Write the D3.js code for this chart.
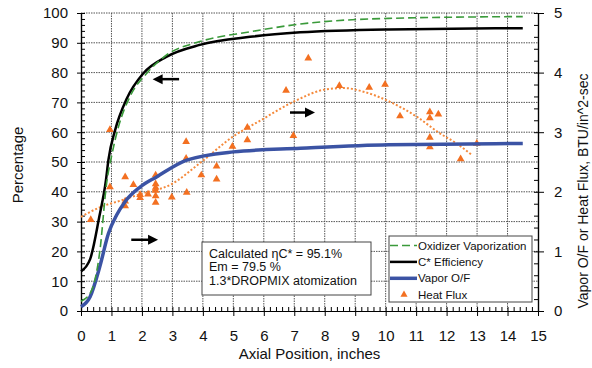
<!DOCTYPE html>
<html lang="en">
  <head>
    <meta charset="UTF-8" />
    <title>Axial Position chart</title>
    <style>
      body {
        margin: 0;
        background: #fff;
        font-family: Arial, "Liberation Sans", sans-serif;
      }
      .grid line {
        stroke: #555;
        stroke-width: 1;
        stroke-dasharray: 1.5 1;
      }
      .axis path,
      .axis line {
        stroke: #000;
      }
      .axis text {
        font-size: 15px;
        fill: #111;
      }
      .box {
        fill: #fff;
        stroke: #444;
        stroke-width: 1;
      }
    </style>
  </head>
  <body>
    <div class="svg-container"></div>
    <script src="https://d3js.org/d3.v7.min.js"></script>
    <script>
      // axis ticks
      var xTicks = d3.range(0, 16, 1);
      var leftTicks = d3.range(0, 101, 10);
      var rightTicks = [0, 1, 2, 3, 4, 5];

      // curves on the left axis (percentage)
      var oxVap = [
        [0, 3.3], [0.32, 6.3], [0.62, 20.2], [0.84, 42.8], [1.0, 51.8],
        [1.23, 61.8], [1.61, 72], [2.16, 79.8], [2.81, 85.9], [3.9, 90.4],
        [5.55, 93.7], [7.2, 96.3], [10.1, 98.2], [14.5, 98.8]
      ];
      var cStar = [
        [0, 13.3], [0.3, 17.4], [0.6, 31.6], [0.82, 44], [0.9, 50.7],
        [1.12, 60.7], [1.5, 71.2], [2.05, 79.8], [2.8, 85.3], [3.9, 89.3],
        [5.55, 92], [7.2, 93.5], [10.1, 94.5], [14.5, 94.9]
      ];

      // curves / points on the right axis (BTU/in^2-sec)
      var vaporOF = [
        [0, 0.07], [0.3, 0.24], [0.62, 0.75], [0.9, 1.3], [1.17, 1.61],
        [1.44, 1.83], [1.94, 2.08], [2.48, 2.25], [3.47, 2.53], [5, 2.67],
        [7.2, 2.73], [10.1, 2.79], [14.5, 2.81]
      ];
      var heatFlux = [
        [0.32, 1.53], [0.95, 3.04], [0.95, 2.08], [1.45, 2.25], [1.45, 1.84],
        [1.45, 1.76], [1.72, 2.12], [1.94, 1.95], [1.94, 1.9], [2.2, 1.96],
        [2.45, 2.28], [2.45, 2.13], [2.45, 2.07], [2.45, 2.02], [2.45, 1.93],
        [2.45, 1.82], [2.98, 1.91], [3.47, 1.99], [3.45, 2.84], [3.45, 2.56],
        [3.95, 2.28], [4.45, 2.43], [4.45, 2.21], [4.97, 2.76], [5.46, 3.08],
        [5.46, 2.87], [6.73, 3.7], [6.97, 2.94], [7.46, 4.24], [8.48, 3.78],
        [9.46, 3.75], [9.98, 3.8], [10.47, 3.27], [11.45, 3.34], [11.45, 3.24],
        [11.73, 3.3], [11.45, 2.91], [11.45, 2.75], [12.46, 2.55], [12.99, 2.81]
      ];
      var fluxTrend = [
        [0, 1.58], [0.62, 1.74], [1.28, 1.85], [1.94, 1.96], [2.98, 2.13],
        [3.9, 2.48], [5, 2.93], [5.9, 3.2], [6.97, 3.51], [8.06, 3.72],
        [8.66, 3.74], [9.27, 3.68], [10.14, 3.51], [11.02, 3.26],
        [11.78, 2.98], [12.33, 2.81], [12.8, 2.63]
      ];

      var legendNames = [
        "Oxidizer Vaporization",
        "C* Efficiency",
        "Vapor O/F",
        "Heat Flux"
      ];
      var noteLines = [
        "Calculated \u03b7C* = 95.1%",
        "Em = 79.5 %",
        "1.3*DROPMIX atomization"
      ];

      var width = 592,
        height = 368;
      var plot = { left: 81, right: 538, top: 13, bottom: 311 };

      var svg = d3
        .select(".svg-container")
        .append("svg")
        .attr("width", width)
        .attr("height", height);

      var x = d3.scaleLinear().domain([0, 15]).range([plot.left, plot.right]);
      var yL = d3.scaleLinear().domain([0, 100]).range([plot.bottom, plot.top]);
      var yR = d3.scaleLinear().domain([0, 5]).range([plot.bottom, plot.top]);

      // dotted grid
      var grid = svg.append("g").attr("class", "grid");
      grid
        .selectAll(".v")
        .data(xTicks.filter((d) => d > 0 && d < 15))
        .enter()
        .append("line")
        .attr("x1", (d) => x(d))
        .attr("x2", (d) => x(d))
        .attr("y1", plot.top)
        .attr("y2", plot.bottom);
      grid
        .selectAll(".h")
        .data(leftTicks.filter((d) => d > 0))
        .enter()
        .append("line")
        .attr("x1", plot.left)
        .attr("x2", plot.right)
        .attr("y1", (d) => yL(d))
        .attr("y2", (d) => yL(d));

      // axes
      svg
        .append("g")
        .attr("class", "axis")
        .attr("transform", "translate(0," + plot.bottom + ")")
        .call(d3.axisBottom(x).tickValues(xTicks).tickSize(5).tickPadding(14).tickSizeOuter(0));
      svg
        .append("g")
        .attr("class", "axis")
        .attr("transform", "translate(0," + plot.bottom + ")")
        .call(
          d3.axisBottom(x).tickValues(d3.range(0, 15.01, 0.2)).tickSize(-4).tickFormat("").tickSizeOuter(0)
        );
      svg
        .append("g")
        .attr("class", "axis")
        .attr("transform", "translate(" + plot.left + ",0)")
        .call(d3.axisLeft(yL).tickValues(leftTicks).tickSize(4).tickPadding(9).tickSizeOuter(0));
      svg
        .append("g")
        .attr("class", "axis")
        .attr("transform", "translate(" + plot.left + ",0)")
        .call(d3.axisLeft(yL).tickValues(d3.range(0, 101, 2)).tickSize(-4).tickFormat("").tickSizeOuter(0));
      svg
        .append("g")
        .attr("class", "axis")
        .attr("transform", "translate(" + plot.right + ",0)")
        .call(
          d3.axisRight(yR).tickValues(rightTicks).tickFormat(d3.format("d")).tickSize(6).tickPadding(10).tickSizeOuter(0)
        );
      svg
        .append("g")
        .attr("class", "axis")
        .attr("transform", "translate(" + plot.right + ",0)")
        .call(d3.axisRight(yR).tickValues(d3.range(0, 5.01, 0.2)).tickSize(-4).tickFormat("").tickSizeOuter(0));
      svg.selectAll(".axis path.domain").attr("stroke-width", 1.2);

      // axis titles
      svg
        .append("text")
        .attr("x", (plot.left + plot.right) / 2)
        .attr("y", 359)
        .attr("text-anchor", "middle")
        .style("font-size", "15px")
        .attr("fill", "#111")
        .text("Axial Position, inches");
      svg
        .append("text")
        .attr("transform", "translate(23,165) rotate(-90)")
        .attr("text-anchor", "middle")
        .style("font-size", "15px")
        .attr("fill", "#111")
        .text("Percentage");
      svg
        .append("text")
        .attr("transform", "translate(588,191) rotate(-90)")
        .attr("text-anchor", "middle")
        .style("font-size", "14px")
        .attr("fill", "#111")
        .text("Vapor O/F or Heat Flux, BTU/in^2-sec");

      var lineL = d3
        .line()
        .curve(d3.curveMonotoneX)
        .x((d) => x(d[0]))
        .y((d) => yL(d[1]));
      var lineR = d3
        .line()
        .curve(d3.curveMonotoneX)
        .x((d) => x(d[0]))
        .y((d) => yR(d[1]));

      // trend line and heat flux points
      svg
        .append("path")
        .datum(fluxTrend)
        .attr("fill", "none")
        .attr("stroke", "#f58a3c")
        .attr("stroke-width", 2)
        .attr("stroke-dasharray", "2 2")
        .attr("d", lineR);
      svg
        .selectAll(".flux")
        .data(heatFlux)
        .enter()
        .append("path")
        .attr("class", "flux")
        .attr("transform", (d) => "translate(" + x(d[0]) + "," + yR(d[1]) + ")")
        .attr("d", d3.symbol().type(d3.symbolTriangle).size(26))
        .attr("fill", "#f37021");

      svg
        .append("path")
        .datum(vaporOF)
        .attr("fill", "none")
        .attr("stroke", "#3b53a4")
        .attr("stroke-width", 3.5)
        .attr("d", lineR);
      svg
        .append("path")
        .datum(cStar)
        .attr("fill", "none")
        .attr("stroke", "#000")
        .attr("stroke-width", 2.5)
        .attr("d", lineL);
      svg
        .append("path")
        .datum(oxVap)
        .attr("fill", "none")
        .attr("stroke", "#3a9a3a")
        .attr("stroke-width", 1.6)
        .attr("stroke-dasharray", "8 4")
        .attr("d", lineL);

      // arrows pointing at the matching axis
      function arrow(x0, x1, yv) {
        var a = x(x0),
          b = x(x1),
          y = yL(yv),
          dir = b > a ? 1 : -1;
        svg
          .append("line")
          .attr("x1", a)
          .attr("x2", b - dir * 8)
          .attr("y1", y)
          .attr("y2", y)
          .attr("stroke", "#000")
          .attr("stroke-width", 2.5);
        svg
          .append("path")
          .attr("d", "M" + b + "," + y + "L" + (b - dir * 10) + "," + (y - 5) + "L" + (b - dir * 10) + "," + (y + 5) + "Z")
          .attr("fill", "#000");
      }
      arrow(3.22, 2.35, 77.8);
      arrow(1.65, 2.53, 23.9);
      arrow(6.86, 7.68, 66.6);

      // note box
      var note = svg.append("g").attr("transform", "translate(202,242)");
      note.append("rect").attr("class", "box").attr("width", 169).attr("height", 53);
      note
        .selectAll("text")
        .data(noteLines)
        .enter()
        .append("text")
        .attr("x", 7)
        .attr("y", (d, i) => 15.5 + i * 13.5)
        .style("font-size", "12.5px")
        .attr("fill", "#111")
        .text((d) => d);

      // legend
      var legend = svg.append("g").attr("transform", "translate(389,236)");
      legend.append("rect").attr("class", "box").attr("width", 143).attr("height", 66);
      var rows = legend
        .selectAll(".row")
        .data(legendNames)
        .enter()
        .append("g")
        .attr("transform", (d, i) => "translate(0," + (9.5 + i * 16.4) + ")");
      rows
        .append("text")
        .attr("x", 29)
        .attr("y", 4)
        .style("font-size", "11.5px")
        .attr("fill", "#111")
        .text((d) => d);
      var styles = [
        { c: "#3a9a3a", w: 1.6, dash: "8 4" },
        { c: "#000", w: 2.5, dash: null },
        { c: "#3b53a4", w: 3.5, dash: null }
      ];
      rows
        .filter((d, i) => i < 3)
        .append("line")
        .attr("x1", 1)
        .attr("x2", 28)
        .attr("stroke", (d, i) => styles[i].c)
        .attr("stroke-width", (d, i) => styles[i].w)
        .attr("stroke-dasharray", (d, i) => styles[i].dash);
      rows
        .filter((d, i) => i === 3)
        .append("path")
        .attr("transform", "translate(15,0)")
        .attr("d", d3.symbol().type(d3.symbolTriangle).size(22))
        .attr("fill", "#f37021");
    </script>
  </body>
</html>
